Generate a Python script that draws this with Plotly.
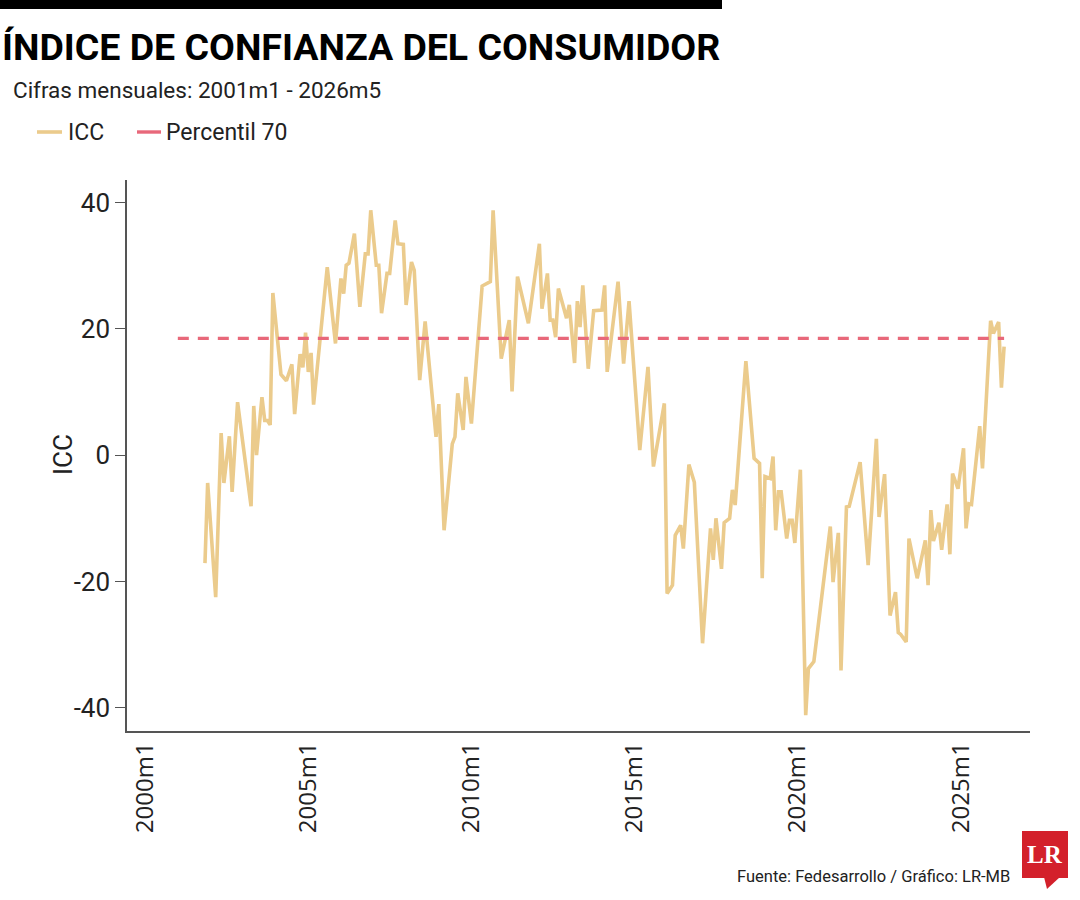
import plotly.graph_objects as go

# ---------------- data ----------------
months = [
    "2001-11", "2001-12", "2002-03", "2002-05", "2002-06", "2002-08", "2002-09", "2002-11",
    "2003-04", "2003-05", "2003-06", "2003-08", "2003-09", "2003-10", "2003-11", "2003-12",
    "2004-03", "2004-05", "2004-07", "2004-08", "2004-10", "2004-11", "2004-12", "2005-01",
    "2005-02", "2005-03", "2005-08", "2005-11", "2006-01", "2006-02", "2006-03", "2006-04",
    "2006-06", "2006-08", "2006-10", "2006-11", "2006-12", "2007-02", "2007-03", "2007-04",
    "2007-06", "2007-07", "2007-09", "2007-10", "2007-12", "2008-01", "2008-03", "2008-04",
    "2008-06", "2008-08", "2008-12", "2009-01", "2009-03", "2009-06", "2009-07", "2009-08",
    "2009-10", "2009-11", "2010-01", "2010-05", "2010-08", "2010-09", "2010-12", "2011-03",
    "2011-04", "2011-06", "2011-10", "2012-02", "2012-03", "2012-05", "2012-06", "2012-07",
    "2012-08", "2012-09", "2012-12", "2013-01", "2013-03", "2013-04", "2013-05", "2013-06",
    "2013-08", "2013-10", "2014-01", "2014-02", "2014-03", "2014-07", "2014-09", "2014-11",
    "2015-03", "2015-06", "2015-08", "2015-12", "2016-01", "2016-03", "2016-04", "2016-06",
    "2016-07", "2016-09", "2016-11", "2017-02", "2017-05", "2017-06", "2017-07", "2017-09",
    "2017-10", "2017-12", "2018-01", "2018-02", "2018-06", "2018-09", "2018-11", "2018-12",
    "2019-01", "2019-03", "2019-04", "2019-05", "2019-06", "2019-07", "2019-09", "2019-10",
    "2019-11", "2019-12", "2020-02", "2020-04", "2020-05", "2020-07", "2021-01", "2021-02",
    "2021-04", "2021-05", "2021-07", "2021-08", "2021-12", "2022-03", "2022-06", "2022-07",
    "2022-09", "2022-11", "2023-01", "2023-02", "2023-03", "2023-05", "2023-06", "2023-09",
    "2023-12", "2024-01", "2024-02", "2024-03", "2024-05", "2024-06", "2024-08", "2024-09",
    "2024-10", "2024-12", "2025-02", "2025-03", "2025-04", "2025-05", "2025-08", "2025-09",
    "2025-12", "2026-01", "2026-03", "2026-04", "2026-05",
]
icc = [
    -17.1, -4.4, -22.5, 3.5, -4.4, 3.0, -5.8, 8.4,
    -8.1, 7.8, 0.0, 9.2, 5.5, 5.5, 4.8, 25.7,
    12.8, 11.8, 14.4, 6.5, 16.0, 13.9, 19.4, 13.2,
    16.2, 8.0, 29.8, 17.7, 28.0, 25.6, 30.1, 30.4,
    35.1, 23.5, 31.9, 31.9, 38.8, 30.1, 30.1, 22.5,
    28.8, 28.8, 37.2, 33.5, 33.4, 23.8, 30.6, 29.3,
    11.9, 21.2, 2.9, 8.1, -11.9, 1.8, 2.9, 9.8,
    4.0, 12.4, 5.0, 26.8, 27.5, 38.8, 15.3, 21.4,
    10.1, 28.3, 20.9, 33.5, 23.2, 28.8, 21.4, 21.4,
    18.7, 26.4, 21.7, 23.8, 14.6, 24.4, 20.3, 26.9,
    13.7, 22.9, 23.0, 26.9, 13.2, 27.5, 14.5, 24.4,
    0.8, 14.0, -1.8, 8.2, -21.9, -20.6, -12.7, -11.1,
    -14.8, -1.5, -4.3, -29.8, -11.6, -16.6, -10.0, -18.0,
    -10.7, -10.0, -5.5, -7.9, 14.9, -0.5, -1.3, -19.5,
    -3.4, -3.7, -0.2, -11.9, -5.8, -5.8, -13.2, -10.3,
    -10.3, -13.9, -2.3, -41.2, -33.8, -32.7, -11.3, -20.1,
    -12.3, -34.1, -8.2, -8.1, -1.1, -17.4, 2.6, -9.8,
    -3.0, -25.4, -21.7, -28.1, -28.4, -29.6, -13.2, -19.5,
    -13.5, -20.6, -8.7, -13.6, -10.7, -15.0, -7.8, -15.7,
    -2.9, -5.3, 1.1, -11.6, -7.7, -7.8, 4.6, -2.1,
    21.3, 19.3, 21.1, 10.7, 17.2,
]
p70_value = 18.5
p70_months = ["2001-01", "2026-05"]

x_tick_dates = ["2000-01-01", "2005-01-01", "2010-01-01", "2015-01-01", "2020-01-01", "2025-01-01"]
x_tick_labels = ["2000m1", "2005m1", "2010m1", "2015m1", "2020m1", "2025m1"]
y_tick_vals = [-40, -20, 0, 20, 40]
y_tick_labels = ["-40", "-20", "0", "20", "40"]

title_text = "ÍNDICE DE CONFIANZA DEL CONSUMIDOR"
subtitle_text = "Cifras mensuales: 2001m1 - 2026m5"
source_text = "Fuente: Fedesarrollo / Gráfico: LR-MB"
y_title = "ICC"
legend_names = ["ICC", "Percentil 70"]

# ---------------- styling ----------------
COND = "Roboto, Lato, Noto Sans, sans-serif"
ICC_COLOR = "#EBCB8C"
P70_COLOR = "#E8687A"
AXIS_COLOR = "#555555"
TXT = "#222222"

W, H = 1080, 900
L, R, T, B = 127, 50, 180, 169
PW, PH = W - L - R, H - T - B


def px(xpix):
    return (xpix - L) / PW


def py(ypix):
    return (H - B - ypix) / PH


fig = go.Figure()
fig.add_trace(go.Scatter(
    x=[m + "-01" for m in months], y=icc, mode="lines", name=legend_names[0],
    line=dict(color=ICC_COLOR, width=3.6), showlegend=False,
))
fig.add_trace(go.Scatter(
    x=[m + "-01" for m in p70_months], y=[p70_value] * len(p70_months), mode="lines",
    name=legend_names[1], line=dict(color=P70_COLOR, width=3.4, dash="11px,9px"),
    showlegend=False,
))

fig.update_layout(
    width=W, height=H,
    margin=dict(l=L, r=R, t=T, b=B),
    paper_bgcolor="white", plot_bgcolor="white",
    showlegend=False,
    font=dict(family=COND, color=TXT),
)
fig.update_xaxes(
    type="date", range=["1999-06-12", "2027-02-15"],
    tickmode="array", tickvals=x_tick_dates, ticktext=x_tick_labels,
    tickangle=-90, ticks="", showgrid=False, zeroline=False,
    showline=True, linecolor=AXIS_COLOR, linewidth=1.5,
    tickfont=dict(family="Open Sans, Noto Sans, sans-serif", size=24, color=TXT),
)
fig.update_yaxes(
    range=[-43.7, 43.6], tickmode="array", tickvals=y_tick_vals, ticktext=y_tick_labels,
    ticks="outside", ticklen=10, tickwidth=1.2, tickcolor=AXIS_COLOR,
    showgrid=False, zeroline=False, showline=True, linecolor=AXIS_COLOR, linewidth=1.5,
    tickfont=dict(family=COND, size=26, color=TXT),
)

shapes = []
annotations = []
# top black bar
shapes.append(dict(type="rect", xref="paper", yref="paper", x0=px(0), x1=px(722), y0=py(9), y1=py(0),
                   fillcolor="black", line=dict(width=0), layer="above"))
annotations.append(dict(text="<b>" + title_text + "</b>", xref="paper", yref="paper", x=px(0), y=py(47),
                        xanchor="left", yanchor="middle", showarrow=False,
                        font=dict(family=COND, size=37.5, color="black")))
annotations.append(dict(text=subtitle_text, xref="paper", yref="paper", x=px(11), y=py(90),
                        xanchor="left", yanchor="middle", showarrow=False,
                        font=dict(family=COND, size=22.5, color=TXT)))
# y-axis title
annotations.append(dict(text=y_title, xref="paper", yref="paper", x=px(63), y=py(455),
                        xanchor="center", yanchor="middle", showarrow=False, textangle=-90,
                        font=dict(family=COND, size=26, color=TXT)))
# legend
shapes.append(dict(type="line", xref="paper", yref="paper", x0=px(37), x1=px(62), y0=py(132), y1=py(132),
                   line=dict(color=ICC_COLOR, width=3.6)))
annotations.append(dict(text=legend_names[0], xref="paper", yref="paper", x=px(66), y=py(132),
                        xanchor="left", yanchor="middle", showarrow=False,
                        font=dict(family=COND, size=23, color=TXT)))
shapes.append(dict(type="line", xref="paper", yref="paper", x0=px(137), x1=px(161), y0=py(132), y1=py(132),
                   line=dict(color=P70_COLOR, width=3.4)))
annotations.append(dict(text=legend_names[1], xref="paper", yref="paper", x=px(164), y=py(132),
                        xanchor="left", yanchor="middle", showarrow=False,
                        font=dict(family=COND, size=23, color=TXT)))
# source
annotations.append(dict(text=source_text, xref="paper", yref="paper", x=px(1012), y=py(876),
                        xanchor="right", yanchor="middle", showarrow=False,
                        font=dict(family=COND, size=16.5, color=TXT)))
# LR logo
shapes.append(dict(type="rect", xref="paper", yref="paper", x0=px(1022), x1=px(1068), y0=py(878), y1=py(831),
                   fillcolor="#D3202B", line=dict(width=0)))
shapes.append(dict(type="path", xref="paper", yref="paper",
                   path="M %f %f L %f %f L %f %f Z" % (px(1044), py(877), px(1060), py(877), px(1047), py(889)),
                   fillcolor="#D3202B", line=dict(width=0)))
annotations.append(dict(text="<b>LR</b>", xref="paper", yref="paper", x=px(1045), y=py(854),
                        xanchor="center", yanchor="middle", showarrow=False,
                        font=dict(family="Liberation Serif, DejaVu Serif, serif", size=25, color="white")))

fig.update_layout(shapes=shapes, annotations=annotations)
fig.write_html("out.html")
